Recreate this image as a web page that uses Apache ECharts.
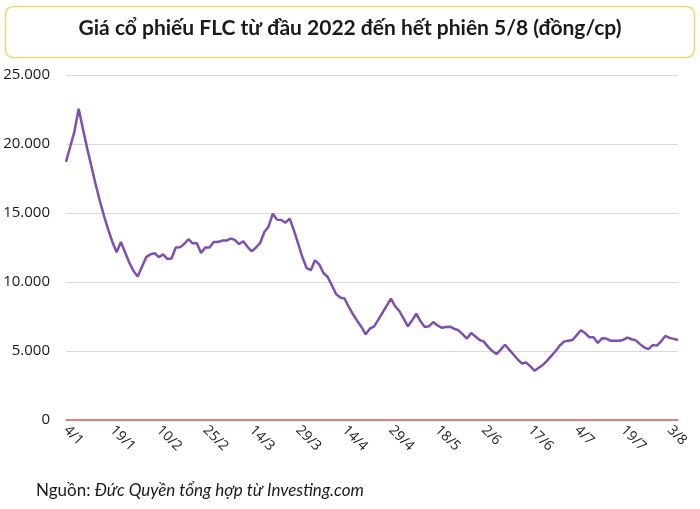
<!DOCTYPE html>
<html>
<head>
<meta charset="utf-8">
<script src="https://cdn.jsdelivr.net/npm/echarts@6/dist/echarts.min.js"></script>
<style>
  html, body { margin: 0; padding: 0; background: #fff; }
  #chart { width: 700px; height: 509px; }
</style>
</head>
<body>
<div id="chart"></div>
<script>
// phiên giao dịch 2022 (ngày/tháng)
var dates = [
  '4/1','5/1','6/1','7/1','10/1','11/1','12/1','13/1','14/1','17/1','18/1','19/1','20/1','21/1','24/1','25/1','26/1','27/1','28/1',
  '7/2','8/2','9/2','10/2','11/2','14/2','15/2','16/2','17/2','18/2','21/2','22/2','23/2','24/2','25/2','28/2',
  '1/3','2/3','3/3','4/3','7/3','8/3','9/3','10/3','11/3','14/3','15/3','16/3','17/3','18/3','21/3','22/3','23/3','24/3','25/3','28/3','29/3','30/3','31/3',
  '1/4','4/4','5/4','6/4','7/4','8/4','12/4','13/4','14/4','15/4','18/4','19/4','20/4','21/4','22/4','25/4','26/4','27/4','28/4','29/4',
  '4/5','5/5','6/5','9/5','10/5','11/5','12/5','13/5','16/5','17/5','18/5','19/5','20/5','23/5','24/5','25/5','26/5','27/5','30/5','31/5',
  '1/6','2/6','3/6','6/6','7/6','8/6','9/6','10/6','13/6','14/6','15/6','16/6','17/6','20/6','21/6','22/6','23/6','24/6','27/6','28/6','29/6','30/6',
  '1/7','4/7','5/7','6/7','7/7','8/7','11/7','12/7','13/7','14/7','15/7','18/7','19/7','20/7','21/7','22/7','25/7','26/7','27/7','28/7','29/7',
  '1/8','2/8','3/8','4/8','5/8'
];

// giá đóng cửa FLC (đồng/cp)
var prices = [
  18700, 19800, 20900, 22550, 21100, 19700, 18400, 17100, 15900, 14800, 13800, 12900, 12150, 12900, 12150, 11400, 10800, 10400, 11100,
  11800, 12000, 12080, 11800, 12000, 11670, 11700, 12500, 12510, 12750, 13100, 12800, 12800, 12100, 12500, 12500,
  12900, 12900, 13000, 13000, 13150, 13050, 12750, 12950, 12550, 12220, 12500, 12830, 13620, 14030, 14950, 14520, 14490, 14300, 14590, 13740, 12780, 11810, 11020,
  10850, 11570, 11280, 10650, 10360, 9760, 9110, 8870, 8800, 8190, 7660, 7180, 6740, 6210, 6620, 6790, 7270, 7780, 8290, 8800,
  8240, 7880, 7340, 6790, 7220, 7710, 7150, 6740, 6790, 7100, 6850, 6690, 6740, 6760, 6600, 6500, 6200, 5900, 6300, 6050,
  5800, 5680, 5300, 5000, 4780, 5100, 5450, 5100, 4750, 4400, 4100, 4170, 3900, 3570, 3780, 4000, 4300, 4650, 5000, 5400, 5680, 5750,
  5800, 6150, 6500, 6300, 5990, 6000, 5580, 5920, 5900, 5750, 5750, 5750, 5800, 5970, 5850, 5770, 5500, 5250, 5140, 5430, 5390,
  5700, 6090, 5950, 5880, 5800
];

var yTicks = [0, 5000, 10000, 15000, 20000, 25000];

var titleText = 'Giá cổ phiếu FLC từ đầu 2022 đến hết phiên 5/8 (đồng/cp)';

function fmt(v) {
  return String(v).replace(/\B(?=(\d{3})+(?!\d))/g, '.');
}

var chart = echarts.init(document.getElementById('chart'));

var option = {
  backgroundColor: '#ffffff',
  animation: false,
  textStyle: { fontFamily: 'Lato' },
  graphic: [
    {
      type: 'rect',
      shape: { x: 5.5, y: 6.5, width: 689, height: 51, r: 8 },
      style: { fill: '#ffffff', stroke: '#f6d56e', lineWidth: 1.5 }
    },
    {
      type: 'text',
      left: 'center',
      top: 18,
      style: {
        text: titleText,
        font: 'bold 21px Lato',
        fill: '#1a1a1a'
      }
    },
    {
      type: 'text',
      left: 36,
      top: 482,
      style: {
        text: '{n|Nguồn: }{i|Đức Quyền tổng hợp từ Investing.com}',
        rich: {
          n: { font: '17px Lato', fill: '#1a1a1a' },
          i: { font: 'italic 17px Lato', fill: '#1a1a1a' }
        }
      }
    }
  ],
  grid: {
    left: 66,
    right: 22,
    top: 75,
    bottom: 89
  },
  xAxis: {
    type: 'category',
    boundaryGap: false,
    data: dates,
    axisLine: { show: true, lineStyle: { color: '#e05a5a', width: 1.5 } },
    axisTick: { show: false },
    axisLabel: {
      interval: 10,
      rotate: -45,
      margin: 8,
      color: '#1a1a1a',
      fontSize: 14,
      fontFamily: 'Open Sans'
    },
    splitLine: { show: false }
  },
  yAxis: {
    type: 'value',
    min: yTicks[0],
    max: yTicks[yTicks.length - 1],
    interval: 5000,
    axisLine: { show: false },
    axisTick: { show: false },
    axisLabel: {
      margin: 16,
      color: '#1a1a1a',
      fontSize: 15,
      fontFamily: 'Open Sans',
      formatter: function (v) { return fmt(v); }
    },
    splitLine: { lineStyle: { color: '#d9d9d9', width: 1 } }
  },
  series: [
    {
      type: 'line',
      data: prices,
      showSymbol: false,
      smooth: false,
      lineStyle: { color: '#7e4fb0', width: 2.5 },
      itemStyle: { color: '#7e4fb0' }
    }
  ]
};

chart.setOption(option);
</script>
</body>
</html>
